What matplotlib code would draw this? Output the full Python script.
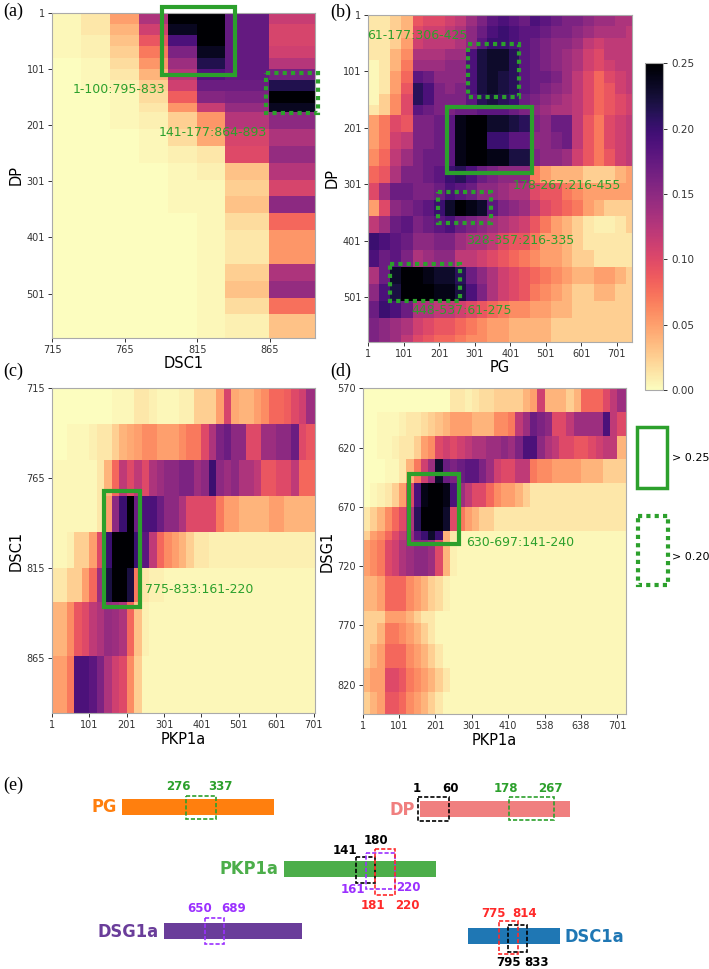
import numpy as np
import matplotlib
matplotlib.use('Agg')
import matplotlib.pyplot as plt
from matplotlib.patches import Rectangle
from matplotlib import font_manager

W, H = 709, 969
fig = plt.figure(figsize=(W / 100, H / 100), dpi=100)

_fonts = [(f.name, str(f.stretch)) for f in font_manager.fontManager.ttflist]
_names = {n for n, s in _fonts}
if 'Liberation Sans Narrow' in _names:
    NARROW_KW, NSCALE = dict(family=['Liberation Sans Narrow', 'DejaVu Sans']), 1.0
elif any(n == 'DejaVu Sans' and s in ('condensed', 'semi-condensed', '87', '75') for n, s in _fonts):
    NARROW_KW, NSCALE = dict(family=['DejaVu Sans'], fontstretch='condensed'), 0.9
else:
    NARROW_KW, NSCALE = dict(family=['Liberation Sans', 'DejaVu Sans']), 0.88
SERIF = 'Liberation Serif'
GREEN = '#2ca02c'
CMAP = 'magma_r'
VMAX = 0.25

# ------------------------------------------------------------------ data
# bead boundaries (residue numbers)
dp_edges = [1, 21, 41, 61, 81, 101, 121, 141, 161, 178, 208, 238, 268, 298, 328,
            358, 388, 418, 448, 478, 508, 538, 568, 580]
dsc1_edges = [715, 735, 755, 775, 795, 815, 834, 864, 896]
pg_edges = [1, 31, 61, 94, 126, 156, 186, 216, 246, 276, 306, 336, 366, 396, 426,
            456, 486, 516, 546, 576, 606, 636, 666, 696, 726, 743]
pkp_edges = [1, 21, 41, 61, 81, 101, 121, 141, 161, 181, 201, 221, 241, 261, 281,
             301, 321, 341, 361, 381, 401, 421, 441, 461, 481, 501, 521, 541, 561,
             581, 601, 621, 641, 661, 681, 701, 705]
pkp_idx_edges = [0, 20, 40, 60, 80, 100, 120, 140, 160, 180, 200, 220, 240, 260, 280,
                 300, 320, 340, 360, 380, 400, 420, 440, 460, 480, 500, 520, 540, 560,
                 580, 600, 620, 640, 660, 680, 700, 720, 723]
dsg1_edges = [570, 590, 610, 630, 650, 670, 690, 698, 728, 758, 768, 786, 806, 826, 845]

# contact frequencies (x 0.01)
# (a) rows: DP beads, cols: DSC1 beads
freq_dp_dsc1 = [
    [0.3, 1.2, 5, 13, 26, 26, 17.5, 11.5],
    [0.3, 1.2, 4, 11, 23.5, 26, 17.5, 10.5],
    [0.3, 0.7, 3.2, 9, 19, 26, 17.5, 10.5],
    [0.3, 0.7, 2.5, 7, 16, 23.5, 17.5, 11],
    [0, 0.3, 1.8, 5.5, 14, 21.5, 17.5, 12.5],
    [0, 0.3, 1.2, 4, 12.5, 18.5, 17.5, 16.5],
    [0, 0.3, 0.7, 2.5, 11, 17, 17, 21.5],
    [0, 0, 0.3, 1.8, 8.5, 15.5, 16, 26],
    [0, 0, 0.3, 1.2, 5.5, 11.5, 14.5, 23.5],
    [0, 0, 0.3, 0.7, 2.5, 5.5, 12.5, 15],
    [0, 0, 0, 0.3, 1.8, 4.5, 10.5, 13],
    [0, 0, 0, 0.3, 0.7, 1.2, 10, 14.5],
    [0, 0, 0, 0, 0.3, 0.7, 3.2, 12.5],
    [0, 0, 0, 0, 0.3, 0.3, 2.5, 10.5],
    [0, 0, 0, 0, 0.3, 0.3, 3.2, 15],
    [0, 0, 0, 0, 0, 0.3, 1.8, 8],
    [0, 0, 0, 0, 0, 0.3, 1.2, 5.5],
    [0, 0, 0, 0, 0, 0.3, 1.2, 5.5],
    [0, 0, 0, 0, 0, 0.3, 2.5, 13],
    [0, 0, 0, 0, 0, 0.3, 3.2, 14.5],
    [0, 0, 0, 0, 0, 0.3, 1.8, 7.5],
    [0, 0, 0, 0, 0, 0.3, 0.7, 3.2],
    [0, 0, 0, 0, 0, 0.3, 0.7, 3.2],
]

# (b) rows: DP beads, cols: PG beads
freq_dp_pg = [
    [1.2, 1.2, 2.5, 4, 9, 10, 10, 11, 12, 14, 16, 18, 19, 18, 17, 19, 18, 17, 16, 16, 15, 14, 14, 13, 13],
    [1.2, 1.2, 2.5, 4, 10, 11, 11, 12, 13, 15, 17, 19, 20, 19, 18, 18, 17, 16, 16, 15, 14, 13, 13, 13, 12],
    [1.2, 1.2, 2.5, 5, 11, 12, 12, 12, 13, 15, 18, 20, 20, 19, 18, 17, 16, 15, 15, 14, 12, 11, 12, 12, 12],
    [1.2, 1.2, 4, 6, 13, 13, 13, 14, 14, 19, 22, 23, 23, 21, 18, 17, 16, 15, 14, 13, 11, 10, 12, 12, 12],
    [0.3, 1.2, 4, 7, 14, 14, 14, 15, 15, 19, 22, 23, 23, 21, 18, 17, 16, 15, 14, 13, 11, 10, 11, 12, 12],
    [0.3, 1.2, 5, 8, 18, 17, 15, 15, 15, 19, 22, 23, 22, 21, 18, 17, 17, 16, 14, 12, 10, 8, 10, 11, 12],
    [0.3, 1.2, 5, 9, 21, 19, 16, 15, 16, 19, 22, 23, 22, 21, 18, 17, 16, 15, 14, 12, 10, 8, 9, 11, 12],
    [0.3, 2.5, 6, 10, 21, 19, 16, 16, 16, 18, 21, 22, 21, 20, 17, 16, 15, 14, 13, 12, 10, 8, 9, 10, 11],
    [1.2, 2.5, 6, 10, 18, 17, 16, 16, 17, 17, 18, 18, 18, 17, 16, 15, 14, 13, 13, 12, 10, 8, 9, 10, 11],
    [5, 7, 10, 9, 16, 16, 17, 18, 24, 25, 26, 23, 23, 22, 21, 16, 15, 17, 17, 12, 9, 7, 10, 11, 12],
    [5, 7, 11, 12, 16, 16, 17, 18, 24, 26, 26, 20, 20, 18, 18, 15, 15, 16, 17, 12, 9, 7, 10, 11, 12],
    [6, 8, 12, 14, 16, 17, 17, 18, 24, 26, 26, 24, 24, 22, 22, 16, 15, 15, 14, 11, 9, 7, 9, 11, 12],
    [8, 9, 13, 16, 16, 17, 18, 20, 21, 19, 17, 16, 15, 15, 15, 7, 5, 4, 4, 4, 2.5, 2.5, 2.5, 4, 5],
    [10, 14, 17, 17, 16, 16, 17, 19, 18, 17, 15, 15, 14, 13, 13, 10, 9, 9, 7, 6, 5, 5, 5, 5, 5],
    [5, 10, 15, 16, 17, 18, 20, 23, 26, 24, 23, 18, 16, 15, 14, 12, 10, 9, 8, 7, 5, 4, 2.5, 2.5, 2.5],
    [12, 14, 17, 18, 16, 17, 18, 19, 17, 16, 15, 14, 13, 12, 11, 9, 7, 5, 4, 2.5, 1.2, 0.7, 0.7, 1.2, 2.5],
    [20, 19, 18, 17, 15, 15, 16, 16, 14, 13, 13, 12, 10, 9, 9, 7, 5, 5, 4, 2.5, 1.2, 1.2, 1.2, 1.2, 1.2],
    [19, 17, 18, 16, 13, 14, 15, 15, 12, 12, 11, 10, 9, 8, 7, 6, 5, 5, 4, 2.5, 2.5, 1.2, 1.2, 1.2, 1.2],
    [13, 17, 23, 25, 25, 24, 23, 23, 21, 17, 15, 13, 11, 10, 9, 8, 7, 6, 5, 4, 4, 5, 5, 4, 2.5],
    [15, 19, 22, 25, 26, 25, 24, 24, 22, 19, 16, 13, 11, 10, 9, 7, 6, 5, 4, 2.5, 2.5, 4, 4, 2.5, 2.5],
    [17, 20, 19, 17, 13, 13, 12, 12, 11, 10, 9, 8, 7, 6, 6, 5, 5, 4, 4, 2.5, 2.5, 2.5, 2.5, 2.5, 2.5],
    [16, 15, 14, 13, 11, 10, 9, 9, 8, 7, 6, 5, 5, 4, 4, 4, 4, 2.5, 2.5, 2.5, 2.5, 2.5, 2.5, 2.5, 2.5],
    [16, 15, 14, 12, 10, 9, 8, 8, 7, 6, 6, 5, 5, 4, 4, 4, 4, 2.5, 2.5, 2.5, 2.5, 2.5, 2.5, 2.5, 2.5],
]

# (c) rows: DSC1 beads, cols: PKP1a beads
freq_dsc1_pkp = [
    [0, 0, 0, 0, 0, 0, 0, 0, 0.3, 0.3, 0.3, 1.2, 1.2, 0.7, 0.3, 0.3, 0.3, 0.7, 0.7, 2.5, 2.5, 2.5, 5, 10.5, 4.5, 4, 4, 5, 6, 8, 8, 8.5, 10, 11, 14, 14],
    [0, 0, 0.3, 0.3, 0.3, 0.7, 1.2, 1.2, 2.5, 4, 4.5, 5, 6, 6, 5, 5, 5, 6, 7, 7, 10, 13, 16, 17, 15, 15, 10, 10, 14, 14, 15, 15, 17, 10, 9, 9],
    [0.3, 0.3, 0.3, 0.3, 0.3, 0.3, 1.2, 4, 8, 12, 10, 12, 10, 13, 14, 15, 15, 16, 16, 14, 15, 20, 15, 14, 15, 13, 13, 12, 9, 9, 10, 10, 12, 8, 8, 8],
    [0.3, 0.3, 0.3, 0.3, 0.3, 0.3, 1.2, 5, 15, 20, 26, 17, 19, 19, 17, 15, 15, 13, 10, 10, 10, 10, 7, 5, 5, 4, 4, 4, 4, 5, 5, 4, 4, 4, 4, 4],
    [0.3, 0.3, 0.7, 2.5, 2.5, 5, 10, 20, 25, 26, 25, 20, 18, 12, 8, 6, 5, 4, 2.5, 1.2, 1.2, 0.7, 0.7, 0.7, 0.7, 0.7, 0.7, 0.7, 0.7, 0.7, 0.7, 0.7, 0.7, 0.7, 0.7, 0.7],
    [1.2, 1.2, 2.5, 2.5, 5, 8, 14, 22, 25, 25, 22, 7, 1.2, 0.7, 0.7, 0.3, 0.3, 0.3, 0.3, 0.3, 0.3, 0.3, 0.3, 0.3, 0.3, 0.3, 0.3, 0.3, 0.3, 0.3, 0.3, 0.3, 0.3, 0.3, 0.3, 0.3],
    [4, 4, 6, 9, 10, 12, 13, 14.5, 14, 13, 8, 3.2, 0.7, 0.3, 0.3, 0.3, 0.3, 0.3, 0.3, 0.3, 0.3, 0.3, 0.3, 0.3, 0.3, 0.3, 0.3, 0.3, 0.3, 0.3, 0.3, 0.3, 0.3, 0.3, 0.3, 0.3],
    [5, 5, 7, 19, 19, 18, 16, 13, 11, 10, 6, 2.5, 0.3, 0.3, 0.3, 0.3, 0.3, 0.3, 0.3, 0.3, 0.3, 0.3, 0.3, 0.3, 0.3, 0.3, 0.3, 0.3, 0.3, 0.3, 0.3, 0.3, 0.3, 0.3, 0.3, 0.3],
]

# (d) rows: DSG1 beads, cols: PKP1a bead index
freq_dsg1_pkp = [
    [0, 0, 0, 0, 0, 0, 0, 0, 0, 0, 0, 0, 1.2, 1.2, 0.7, 1.2, 1.8, 1.8, 2.5, 2.5, 2.5, 2.5, 4, 5, 11, 4, 4, 4, 2.5, 4, 8, 8, 8, 10, 12, 14, 14],
    [0, 0, 0.3, 0.3, 0.3, 0.7, 1.2, 1.2, 1.8, 2.5, 3.2, 4, 5, 5, 5, 4, 4, 4, 6, 6, 7, 12, 14, 17, 16, 15, 10, 10, 12, 14, 14, 14, 14, 19, 12, 10, 10],
    [0, 0, 0.3, 0.3, 0.7, 1.2, 1.2, 2.5, 5, 6, 10, 11, 10, 11, 12, 13, 13, 14, 14, 15, 14, 16, 19, 19, 15, 13, 12, 10, 10, 9, 9, 10, 11, 12, 12, 4, 4],
    [0, 0, 0, 0.3, 0.3, 1.2, 4, 7, 11, 14, 23, 17, 16, 17, 18, 18, 16, 14, 11, 10, 10, 12, 12, 7, 6, 6, 5, 5, 5, 5, 4, 4, 4, 2.5, 2.5, 2.5, 2.5],
    [0, 0.3, 0.7, 1.2, 2.5, 5, 10, 19, 24, 26, 26, 24, 19, 14, 12, 10, 10, 8, 6, 5, 5, 4, 2.5, 1.2, 1.2, 1.2, 1.2, 1.2, 1.2, 1.2, 1.2, 1.2, 1.2, 1.2, 1.2, 1.2, 1.2],
    [1.2, 2.5, 4, 6, 8, 10, 13, 21, 26, 26, 26, 23, 10, 7, 5, 4, 2.5, 2.5, 1.2, 1.2, 1.2, 1.2, 1.2, 1.2, 1.2, 1.2, 1.2, 1.2, 1.2, 1.2, 1.2, 1.2, 1.2, 1.2, 1.2, 1.2, 1.2],
    [2.5, 5, 6, 8, 10, 12, 14, 18, 20, 23, 20, 4, 1.2, 0.3, 0.3, 0.3, 0.3, 0.3, 0.3, 0.3, 0.3, 0.3, 0.3, 0.3, 0.3, 0.3, 0.3, 0.3, 0.3, 0.3, 0.3, 0.3, 0.3, 0.3, 0.3, 0.3, 0.3],
    [5, 6, 7, 10, 11, 13, 14, 15, 15, 14, 10, 4, 0.7, 0.3, 0.3, 0.3, 0.3, 0.3, 0.3, 0.3, 0.3, 0.3, 0.3, 0.3, 0.3, 0.3, 0.3, 0.3, 0.3, 0.3, 0.3, 0.3, 0.3, 0.3, 0.3, 0.3, 0.3],
    [4, 4, 5, 8, 8, 8, 6, 5, 4, 2.5, 1.8, 0.7, 0.3, 0.3, 0.3, 0.3, 0.3, 0.3, 0.3, 0.3, 0.3, 0.3, 0.3, 0.3, 0.3, 0.3, 0.3, 0.3, 0.3, 0.3, 0.3, 0.3, 0.3, 0.3, 0.3, 0.3, 0.3],
    [2.5, 2.5, 2.5, 5, 5, 5, 4, 2.5, 1.2, 1.2, 0.3, 0.3, 0.3, 0.3, 0.3, 0.3, 0.3, 0.3, 0.3, 0.3, 0.3, 0.3, 0.3, 0.3, 0.3, 0.3, 0.3, 0.3, 0.3, 0.3, 0.3, 0.3, 0.3, 0.3, 0.3, 0.3, 0.3],
    [2.5, 2.5, 4, 7, 7, 6, 5, 4, 2.5, 1.2, 0.3, 0.3, 0.3, 0.3, 0.3, 0.3, 0.3, 0.3, 0.3, 0.3, 0.3, 0.3, 0.3, 0.3, 0.3, 0.3, 0.3, 0.3, 0.3, 0.3, 0.3, 0.3, 0.3, 0.3, 0.3, 0.3, 0.3],
    [2.5, 4, 5, 8, 8, 8, 6, 5, 4, 2.5, 1.2, 0.3, 0.3, 0.3, 0.3, 0.3, 0.3, 0.3, 0.3, 0.3, 0.3, 0.3, 0.3, 0.3, 0.3, 0.3, 0.3, 0.3, 0.3, 0.3, 0.3, 0.3, 0.3, 0.3, 0.3, 0.3, 0.3],
    [4, 5, 5, 10, 10, 9, 7, 6, 5, 4, 2.5, 1.2, 0.3, 0.3, 0.3, 0.3, 0.3, 0.3, 0.3, 0.3, 0.3, 0.3, 0.3, 0.3, 0.3, 0.3, 0.3, 0.3, 0.3, 0.3, 0.3, 0.3, 0.3, 0.3, 0.3, 0.3, 0.3],
    [2.5, 4, 5, 9, 9, 8, 6, 5, 4, 2.5, 1.2, 0.3, 0.3, 0.3, 0.3, 0.3, 0.3, 0.3, 0.3, 0.3, 0.3, 0.3, 0.3, 0.3, 0.3, 0.3, 0.3, 0.3, 0.3, 0.3, 0.3, 0.3, 0.3, 0.3, 0.3, 0.3, 0.3],
]

# tick labels
dp_ticks = [1, 101, 201, 301, 401, 501]
dsc1_ticks = [715, 765, 815, 865]
pg_ticks = [1, 101, 201, 301, 401, 501, 601, 701]
pkp_ticks = [1, 101, 201, 301, 401, 501, 601, 701]
pkp_idx_ticks = [0, 100, 200, 300, 400, 500, 600, 700]
pkp_idx_labels = ['1', '101', '201', '301', '410', '538', '638', '701']
dsg1_ticks = [570, 620, 670, 720, 770, 820]
cbar_ticks = [0.00, 0.05, 0.10, 0.15, 0.20, 0.25]

# highlighted regions: (x0, x1, y0, y1, style) in axis residue units
boxes_a = [(791, 841, -9, 112, 'solid'), (862, 898, 109, 180, 'dotted')]
notes_a = [('1-100:795-833', 761, 138, 'center'), ('141-177:864-893', 826, 215, 'center')]
boxes_b = [(283, 426, 53, 147, 'dotted'), (224, 461, 164, 281, 'solid'),
           (198, 346, 314, 370, 'dotted'), (62, 258, 442, 508, 'dotted')]
notes_b = [('61-177:306-425', -3, 37, 'left'), ('178-267:216-455', 408, 304, 'left'),
           ('328-357:216-335', 276, 400, 'left'), ('448-537:61-275', 123, 525, 'left')]
boxes_c = [(140, 236, 772, 837, 'solid')]
notes_c = [('775-833:161-220', 251, 827, 'left')]
boxes_d = [(127, 265, 642, 701, 'solid')]
notes_d = [('630-697:141-240', 284, 700, 'left')]

# ------------------------------------------------------------------ helpers
def px_axes(l, t, r, b):
    return fig.add_axes([l / W, 1 - b / H, (r - l) / W, (b - t) / H])


def heat(ax, xe, ye, vals, xticks, xlabels, yticks, xname, yname):
    z = np.array(vals, dtype=float) / 100.0
    m = ax.pcolormesh(xe, ye, z, cmap=CMAP, vmin=0, vmax=VMAX, shading='flat')
    ax.set_xlim(xe[0], xe[-1])
    ax.set_ylim(ye[-1], ye[0])
    ax.set_xticks(xticks)
    ax.set_xticklabels(xlabels)
    ax.set_yticks(yticks)
    ax.tick_params(labelsize=7, length=3, width=0.7, colors='#333333', pad=2)
    ax.set_xlabel(xname, fontsize=10.5, labelpad=1)
    ax.set_ylabel(yname, fontsize=10.5, labelpad=2)
    for s in ax.spines.values():
        s.set_color('#aaaaaa')
        s.set_linewidth(0.8)
    return m


def mark(ax, boxes, notes):
    for x0, x1, y0, y1, st in boxes:
        ls = '-' if st == 'solid' else (0, (1, 1))
        ax.add_patch(Rectangle((x0, y0), x1 - x0, y1 - y0, fill=False, ec=GREEN,
                               lw=3.0, ls=ls, clip_on=False, zorder=5))
    for txt, x, y, ha in notes:
        ax.text(x, y, txt, color=GREEN, fontsize=9, ha=ha, va='center',
                clip_on=False, zorder=6)


# ------------------------------------------------------------------ heatmaps
ax_a = px_axes(52, 12.7, 315, 338)
m = heat(ax_a, dsc1_edges, dp_edges, freq_dp_dsc1, dsc1_ticks,
         [str(t) for t in dsc1_ticks], dp_ticks, 'DSC1', 'DP')
mark(ax_a, boxes_a, notes_a)

ax_b = px_axes(368.3, 15, 631.7, 341.7)
heat(ax_b, pg_edges, dp_edges, freq_dp_pg, pg_ticks,
     [str(t) for t in pg_ticks], dp_ticks, 'PG', 'DP')
mark(ax_b, boxes_b, notes_b)

ax_c = px_axes(52, 388.3, 315, 713.3)
heat(ax_c, pkp_edges, dsc1_edges, freq_dsc1_pkp, pkp_ticks,
     [str(t) for t in pkp_ticks], dsc1_ticks, 'PKP1a', 'DSC1')
mark(ax_c, boxes_c, notes_c)

ax_d = px_axes(362.7, 388.3, 625.7, 714.3)
heat(ax_d, pkp_idx_edges, dsg1_edges, freq_dsg1_pkp, pkp_idx_ticks,
     pkp_idx_labels, dsg1_ticks, 'PKP1a', 'DSG1')
mark(ax_d, boxes_d, notes_d)

cax = px_axes(645, 63.3, 662.7, 390)
cb = fig.colorbar(m, cax=cax, ticks=cbar_ticks)
cb.ax.set_yticklabels(['%.2f' % t for t in cbar_ticks])
cb.ax.tick_params(labelsize=7.5, length=3, width=0.7, colors='#333333')
cb.outline.set_edgecolor('#aaaaaa')
cb.outline.set_linewidth(0.8)

# ------------------------------------------------------------------ overlay (legend, panel labels, schematic)
ov = fig.add_axes([0, 0, 1, 1], zorder=10)
ov.set_xlim(0, W)
ov.set_ylim(H, 0)
ov.axis('off')
ov.patch.set_visible(False)

# legend of box styles
ov.add_patch(Rectangle((637.3, 427.3), 29.4, 60.4, fill=False, ec=GREEN, lw=2.5))
ov.text(671.5, 458, '> 0.25', fontsize=8, va='center', ha='left')
ov.add_patch(Rectangle((638.3, 516), 30, 69, fill=False, ec=GREEN, lw=3.0, ls=(0, (1, 1))))
ov.text(671.5, 556.7, '> 0.20', fontsize=8, va='center', ha='left')

panel_labels = [('(a)', 3, 11), ('(b)', 330, 12), ('(c)', 3, 371.5), ('(d)', 330, 371.5), ('(e)', 3, 785)]
for lab, x, y in panel_labels:
    ov.text(x, y, lab, family=SERIF, fontsize=13, ha='left', va='center')

# (e) domain schematic (layout in figure pixels)
proteins = ['PG', 'DP', 'PKP1a', 'DSG1a', 'DSC1a']
prot_colors = ['#ff7f0e', '#f07f7f', '#4cae4a', '#6a3d9a', '#1f77b4']
bar_x = [(121.6, 273.9), (419.7, 570.0), (283.5, 435.8), (163.8, 301.8), (468.0, 559.6)]
bar_y = [(799.0, 815.0), (800.7, 816.7), (860.7, 877.3), (922.7, 938.7), (927.7, 944.0)]
name_side = ['left', 'left', 'left', 'left', 'right']
name_y = [807.5, 810.0, 868.5, 931.7, 936.7]

for p, c, (x0, x1), (y0, y1), side, ny in zip(proteins, prot_colors, bar_x, bar_y, name_side, name_y):
    ov.add_patch(Rectangle((x0, y0), x1 - x0, y1 - y0, fc=c, ec='none'))
    if side == 'left':
        ov.text(x0 - 5, ny, p, color=c, fontweight='bold', fontsize=14.5 * NSCALE,
                ha='right', va='center', **NARROW_KW)
    else:
        ov.text(x1 + 5, ny, p, color=c, fontweight='bold', fontsize=14.5 * NSCALE,
                ha='left', va='center', **NARROW_KW)

VIOLET = '#9b30ff'
RED = '#ff2a2a'
seg_boxes = [
    (GREEN, 185.8, 216.0, 795.7, 819.3),
    ('black', 418.0, 448.6, 797.3, 820.7),
    (GREEN, 509.0, 554.0, 797.0, 820.0),
    ('black', 355.5, 374.8, 856.7, 882.7),
    (VIOLET, 365.6, 395.4, 853.3, 889.3),
    (RED, 375.2, 395.4, 849.3, 895.0),
    (VIOLET, 204.6, 223.9, 917.7, 944.3),
    (RED, 498.6, 518.3, 920.7, 954.3),
    ('black', 508.3, 526.6, 925.3, 951.7),
]
for c, x0, x1, y0, y1 in seg_boxes:
    ov.add_patch(Rectangle((x0, y0), x1 - x0, y1 - y0, fill=False, ec=c, lw=1.2,
                           ls=(0, (2.5, 1.2))))

seg_numbers = [
    ('276', GREEN, 178, 786.7), ('337', GREEN, 220, 786.7),
    ('1', 'black', 416.5, 788.3), ('60', 'black', 450.5, 788.3),
    ('178', GREEN, 506, 788.3), ('267', GREEN, 550.5, 788.3),
    ('141', 'black', 345.4, 850), ('180', 'black', 376, 841),
    ('161', VIOLET, 353, 889.3), ('220', VIOLET, 408, 887.3),
    ('181', RED, 372.5, 905.3), ('220', RED, 407.3, 905.3),
    ('650', VIOLET, 200, 909), ('689', VIOLET, 234, 909),
    ('775', RED, 493, 913.3), ('814', RED, 525, 913.3),
    ('795', 'black', 509, 962.3), ('833', 'black', 536.7, 962.3),
]
for t, c, x, y in seg_numbers:
    ov.text(x, y, t, color=c, fontweight='bold', fontsize=10.5 * NSCALE,
            ha='center', va='center', **NARROW_KW)

fig.savefig('out.png', dpi=100)
